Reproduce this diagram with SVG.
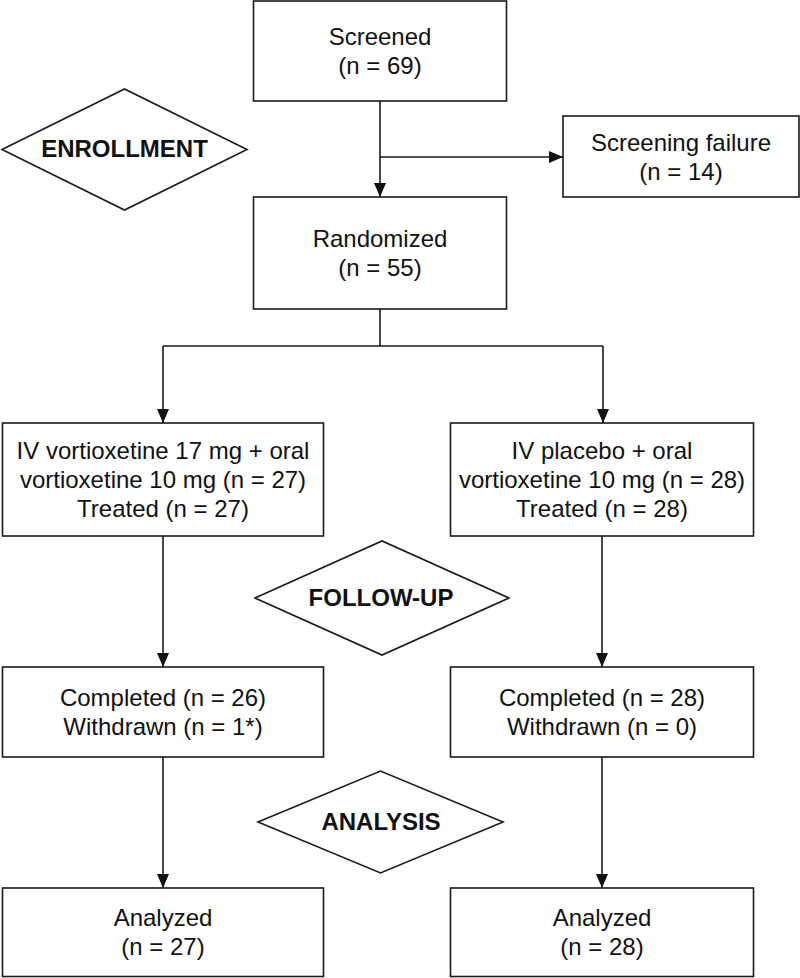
<svg xmlns="http://www.w3.org/2000/svg" width="800" height="978" viewBox="0 0 800 978">
<style>
.box{fill:#fff;stroke:#1a1a1a;stroke-width:1.6}
.dia{fill:#fff;stroke:#1a1a1a;stroke-width:1.6}
.t{font-family:"Liberation Sans",Arial,sans-serif;font-size:24px;fill:#111;text-anchor:middle}
.b{font-family:"Liberation Sans",Arial,sans-serif;font-size:24px;font-weight:bold;fill:#111;text-anchor:middle}
.c{fill:none;stroke:#1a1a1a;stroke-width:1.6}
</style>
<defs>
<marker id="arr" markerUnits="userSpaceOnUse" markerWidth="14" markerHeight="12" refX="14" refY="6" orient="auto">
<path d="M0,0 L14,6 L0,12 z" fill="#111"/>
</marker>
</defs>
<rect width="800" height="978" fill="#fff"/>
<g id="connectors">
<path class="c" d="M380,101 V197" marker-end="url(#arr)"/>
<path class="c" d="M380,157 H563" marker-end="url(#arr)"/>
<path class="c" d="M380,309 V346"/>
<path class="c" d="M163,346 H603"/>
<path class="c" d="M163,346 V423" marker-end="url(#arr)"/>
<path class="c" d="M603,346 V423" marker-end="url(#arr)"/>
<path class="c" d="M163,536 V667" marker-end="url(#arr)"/>
<path class="c" d="M602,536 V667" marker-end="url(#arr)"/>
<path class="c" d="M163,757 V888" marker-end="url(#arr)"/>
<path class="c" d="M602,757 V888" marker-end="url(#arr)"/>
</g>
<g id="screened">
<rect class="box" x="253.5" y="1" width="253" height="100"/>
<text class="t" x="380" y="45">Screened</text>
<text class="t" x="380" y="74">(n = 69)</text>
</g>
<g id="enrollment">
<polygon class="dia" points="2,149.5 124.5,89 247,149.5 124.5,210"/>
<text class="b" x="124.5" y="157">ENROLLMENT</text>
</g>
<g id="screening-failure">
<rect class="box" x="563" y="116" width="236" height="81"/>
<text class="t" x="681" y="151">Screening failure</text>
<text class="t" x="681" y="180">(n = 14)</text>
</g>
<g id="randomized">
<rect class="box" x="253.5" y="197" width="253" height="112"/>
<text class="t" x="380" y="247">Randomized</text>
<text class="t" x="380" y="276">(n = 55)</text>
</g>
<g id="arm-iv">
<rect class="box" x="2.5" y="423" width="321" height="113"/>
<text class="t" x="163" y="459">IV vortioxetine 17 mg + oral</text>
<text class="t" x="163" y="488">vortioxetine 10 mg (n = 27)</text>
<text class="t" x="163" y="517">Treated (n = 27)</text>
</g>
<g id="arm-placebo">
<rect class="box" x="450.5" y="423" width="303" height="113"/>
<text class="t" x="602" y="459">IV placebo + oral</text>
<text class="t" x="602" y="488">vortioxetine 10 mg (n = 28)</text>
<text class="t" x="602" y="517">Treated (n = 28)</text>
</g>
<g id="follow-up">
<polygon class="dia" points="255,598 382,541 509,598 382,655"/>
<text class="b" x="381" y="606">FOLLOW-UP</text>
</g>
<g id="completed-iv">
<rect class="box" x="2.5" y="667" width="321" height="90"/>
<text class="t" x="163" y="706">Completed (n = 26)</text>
<text class="t" x="163" y="735">Withdrawn (n = 1*)</text>
</g>
<g id="completed-placebo">
<rect class="box" x="450.5" y="667" width="303" height="90"/>
<text class="t" x="602" y="706">Completed (n = 28)</text>
<text class="t" x="602" y="735">Withdrawn (n = 0)</text>
</g>
<g id="analysis">
<polygon class="dia" points="258,822 380.5,771 503,822 380.5,873"/>
<text class="b" x="381" y="830">ANALYSIS</text>
</g>
<g id="analyzed-iv">
<rect class="box" x="2.5" y="888" width="321" height="88.5"/>
<text class="t" x="163" y="926">Analyzed</text>
<text class="t" x="163" y="955">(n = 27)</text>
</g>
<g id="analyzed-placebo">
<rect class="box" x="450.5" y="888" width="303" height="88.5"/>
<text class="t" x="602" y="926">Analyzed</text>
<text class="t" x="602" y="955">(n = 28)</text>
</g>
</svg>
